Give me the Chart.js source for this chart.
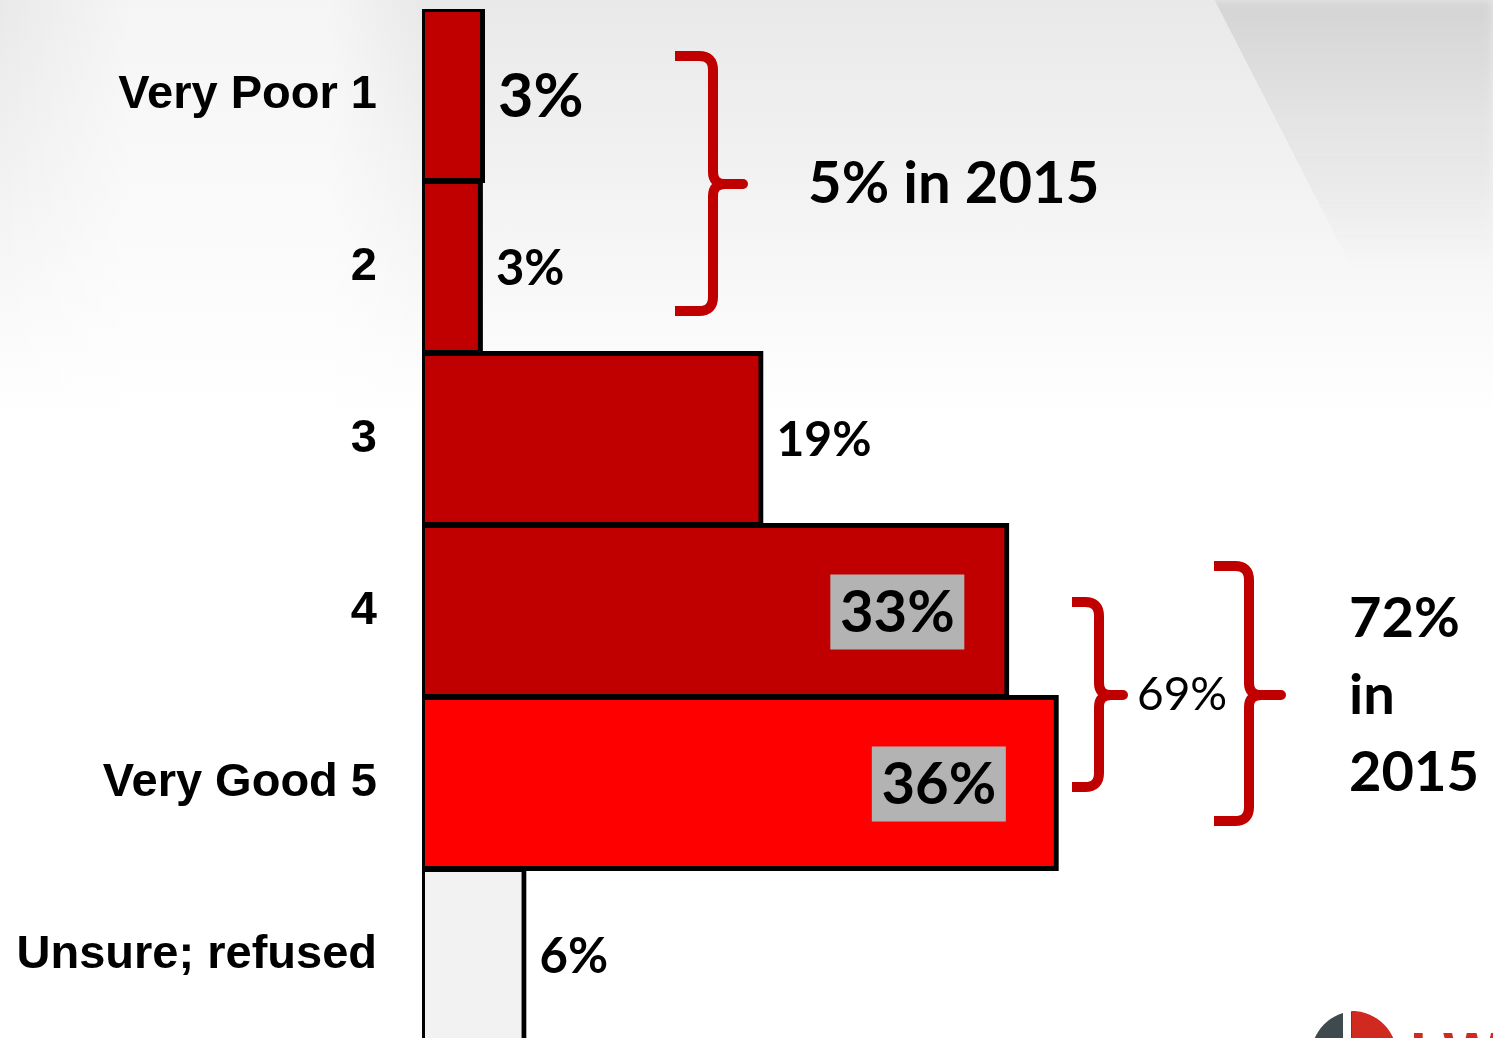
<!DOCTYPE html>
<html>
<head>
<meta charset="utf-8">
<script src="https://cdn.jsdelivr.net/npm/chart.js@4.4.1/dist/chart.umd.min.js"></script>
<style>
html, body { margin: 0; padding: 0; overflow: hidden; background: #fff; }
#wrap {
    position: relative;
    width: 1493px;
    height: 1048px;
    background:
        linear-gradient(to right, rgba(255,255,255,0) 0px, rgba(255,255,255,0.55) 130px, rgba(255,255,255,0.55) 330px, rgba(255,255,255,0) 420px),
        linear-gradient(to bottom, #e9e9e9 0px, #f3f3f3 200px, #ffffff 420px);
}
#deco {
    position: absolute;
    left: 1200px;
    top: 0;
    width: 293px;
    height: 400px;
    background: linear-gradient(to bottom, #d4d4d4 0px, #e4e4e4 120px, rgba(255,255,255,0) 260px);
    clip-path: polygon(5% 0, 100% 0, 100% 100%, 75% 100%);
    filter: blur(4px);
}
#chart { display: block; position: relative; }
</style>
</head>
<body>
<div id="wrap"><div id="deco"></div><canvas id="chart" width="1493" height="1048"></canvas></div>
<script>
/****************************************************
 * DATA
 ***************************************************/
const categories = ['Very Poor 1', '2', '3', '4', 'Very Good 5', 'Unsure; refused'];
const shares = [3.45, 3.33, 19.2, 33.1, 35.9, 5.8];
const barColours = ['#C00000', '#C00000', '#C00000', '#C00000', '#FF0000', '#F2F2F2'];

// annotation texts
const poorNote = '5% in 2015';
const goodShare = '69%';
const goodNote = ['72%', 'in', '2015'];

/*******************
 * LABEL STYLES PER BAR
 ******************/
const labelStyles = [
    { size: 61, inside: false },
    { size: 49, inside: false },
    { size: 48, inside: false },
    { size: 58, inside: true, gap: 43 },
    { size: 58, inside: true, gap: 51 },
    { size: 49, inside: false },
];

/*******************
 * PLUGIN - VALUE LABELS
 ******************/
const valueLabels = {
    id: 'valueLabels',
    afterDatasetsDraw(chart) {
        const ctx = chart.ctx;
        const meta = chart.getDatasetMeta(0);
        ctx.save();
        meta.data.forEach((bar, i) => {
            const st = labelStyles[i];
            const text = Math.round(shares[i]) + '%';
            ctx.font = `bold ${st.size}px Lato`;
            ctx.textBaseline = 'middle';
            if (st.inside) {
                const boxW = 134, boxH = 75;
                const right = bar.x - st.gap;
                ctx.fillStyle = '#B3B3B3';
                ctx.fillRect(right - boxW, bar.y - boxH / 2 + 1, boxW, boxH);
                ctx.fillStyle = '#000';
                ctx.textAlign = 'center';
                ctx.fillText(text, right - boxW / 2, bar.y + 2);
            } else {
                ctx.fillStyle = '#000';
                ctx.textAlign = 'left';
                ctx.fillText(text, bar.x + 15, bar.y + 2);
            }
        });
        ctx.restore();
    }
};

/*******************
 * PLUGIN - BRACKETS AND NOTES
 ******************/
function drawBracket(ctx, xL, xR, yT, yB, yM, tipX) {
    const rc = 14, rm = 12;
    ctx.beginPath();
    ctx.moveTo(xL, yT);
    ctx.lineTo(xR - rc, yT);
    ctx.quadraticCurveTo(xR, yT, xR, yT + rc);
    ctx.lineTo(xR, yM - rm);
    ctx.quadraticCurveTo(xR, yM, xR + rm, yM);
    ctx.moveTo(xR + rm, yM);
    ctx.quadraticCurveTo(xR, yM, xR, yM + rm);
    ctx.lineTo(xR, yB - rc);
    ctx.quadraticCurveTo(xR, yB, xR - rc, yB);
    ctx.lineTo(xL, yB);
    ctx.lineCap = 'butt';
    ctx.stroke();
    ctx.beginPath();
    ctx.moveTo(xR + rm - 2, yM);
    ctx.lineTo(tipX, yM);
    ctx.lineCap = 'round';
    ctx.stroke();
}

const brackets = {
    id: 'brackets',
    afterDraw(chart) {
        const ctx = chart.ctx;
        const ys = chart.scales.y;
        const left = chart.chartArea.left;
        const c0 = ys.getPixelForValue(0), c1 = ys.getPixelForValue(1);
        const c3 = ys.getPixelForValue(3), c4 = ys.getPixelForValue(4);

        ctx.save();
        ctx.strokeStyle = '#C00000';
        ctx.lineWidth = 10;

        /* Very poor + 2 */
        const m1 = (c0 + c1) / 2 + 3;
        drawBracket(ctx, left + 253, left + 291, c0 - 39, c1 + 44, m1, left + 321);

        /* 4 + Very good (this year) */
        const m2 = (c3 + c4) / 2 - 2;
        drawBracket(ctx, left + 650, left + 677, c3 - 9, c4 + 4, m2, left + 701);

        /* 4 + Very good (2015) */
        drawBracket(ctx, left + 792, left + 827, c3 - 45, c4 + 38, m2, left + 859);

        ctx.fillStyle = '#000';
        ctx.textBaseline = 'middle';
        ctx.textAlign = 'left';
        ctx.font = 'bold 58px Lato';
        ctx.fillText(poorNote, left + 386, m1);

        ctx.font = '46px Lato';
        ctx.fillText(goodShare, left + 715, m2);

        ctx.font = 'bold 56px Lato';
        goodNote.forEach((line, i) => {
            ctx.fillText(line, left + 927, m2 - 76 + i * 77);
        });

        /* logo peeking in the corner */
        ctx.fillStyle = '#3F4A4F';
        ctx.beginPath();
        ctx.arc(1356, 1056, 45, Math.PI * 0.5, Math.PI * 1.5);
        ctx.closePath();
        ctx.fill();
        ctx.fillStyle = '#fff';
        ctx.fillRect(1343, 1005, 8, 60);
        ctx.fillStyle = '#D02A20';
        ctx.beginPath();
        ctx.arc(1352, 1056, 45, -Math.PI * 0.5, Math.PI * 0.5);
        ctx.closePath();
        ctx.fill();
        ctx.font = 'bold 60px "Liberation Sans"';
        ctx.textBaseline = 'alphabetic';
        ctx.fillText('LWI', 1410, 1074);
        ctx.restore();
    }
};

/****************************************************
 * CHART CREATION
 ***************************************************/
document.addEventListener('DOMContentLoaded', function() {
    const ctx = document.getElementById('chart');
    new Chart(ctx, {
        type: 'bar',
        data: {
            labels: categories,
            datasets: [{
                data: shares,
                backgroundColor: barColours,
                borderColor: '#000',
                borderWidth: 5,
                inflateAmount: 2, // shared edges collapse into one line
                borderSkipped: false,
                barPercentage: 1,
                categoryPercentage: 1,
            }]
        },
        options: {
            indexAxis: 'y',
            responsive: false,
            animation: false,
            layout: { padding: { top: 9, bottom: 7, right: 10, left: 0 } },
            scales: {
                x: { display: false, min: 0, max: 60 },
                y: {
                    grid: { display: false, drawTicks: false },
                    border: { display: false },
                    ticks: {
                        color: '#000',
                        padding: 45,
                        font: { family: 'Liberation Sans', weight: 'bold', size: 47 },
                    },
                    afterFit(scale) {
                        scale.width = 422;
                        scale.paddingTop = 0;
                        scale.paddingBottom = 0;
                    },
                }
            },
            plugins: {
                legend: { display: false },
                tooltip: { enabled: false },
            }
        },
        plugins: [valueLabels, brackets],
    });
});
</script>
</body>
</html>
